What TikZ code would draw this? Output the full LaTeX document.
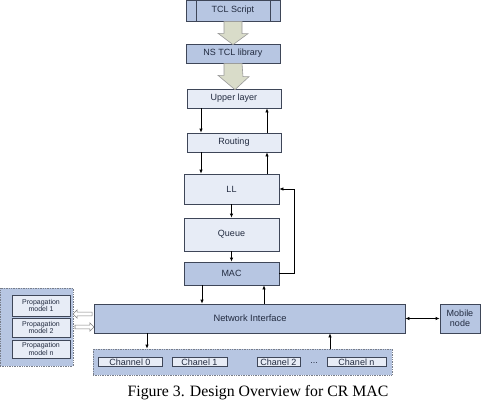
\documentclass[tikz,border=0pt]{standalone}
\usepackage{fontspec}
\setmainfont{Liberation Sans}
\newfontfamily\capfont{Liberation Serif}
\usetikzlibrary{shapes.arrows,arrows.meta}
\definecolor{boxdark}{HTML}{B7C6E2}
\definecolor{boxlight}{HTML}{E7ECF6}
\definecolor{boxline}{HTML}{3E4658}
\definecolor{boxtext}{HTML}{222B40}
\definecolor{fatfill}{HTML}{D9DCC9}
\begin{document}
\begin{tikzpicture}[x=1pt,y=-1pt,
		lay/.style={draw=boxline, fill=boxlight, line width=0.7pt, text=boxtext, font=\fontsize{9}{10}\selectfont, inner sep=0pt},
		laydark/.style={lay, fill=boxdark},
		grp/.style={draw=boxline!70, fill=boxdark, densely dotted, line width=0.7pt, inner sep=0pt},
		small/.style={lay, font=\fontsize{7}{7.5}\selectfont, align=center},
		fat/.style={draw=gray!80, fill=fatfill, line width=0.6pt, line join=miter},
		hollow/.style={single arrow, draw=gray, fill=white, line width=0.6pt, inner sep=1.6pt, single arrow head extend=2.2pt, minimum height=19pt},
		link/.style={-{Latex[length=4pt,width=3.5pt]}, line width=0.7pt, black}
	]
	\useasboundingbox (0,0) rectangle (485,405);

	% stack
	\node[laydark, minimum width=94pt, minimum height=21pt] (tcl) at (233,10.5) {TCL Script};
	\draw[boxline, line width=0.7pt] (196,0) -- (196,21) (270,0) -- (270,21);
	\node[laydark, minimum width=94pt, minimum height=19pt] (nslib) at (233,53.5) {NS TCL library};
	\node[lay, minimum width=94pt, minimum height=19pt] (upper) at (234,98.5) {Upper layer};
	\node[lay, minimum width=94pt, minimum height=19pt] (routing) at (234,142.5) {Routing};
	\node[lay, minimum width=95pt, minimum height=30pt] (ll) at (231.5,189) {LL};
	\node[lay, minimum width=95pt, minimum height=33pt] (queue) at (231.5,234.5) {Queue};
	\node[laydark, minimum width=95pt, minimum height=23pt] (mac) at (231.5,273.5) {MAC};

	% fat arrows
	\draw[fat] ([xshift=-9pt]tcl.south) -- ++(0,12) -- ++(-6,0) -- ([yshift=-1pt]nslib.north)
		-- ++(15,-11) -- ++(-6,0) -- ([xshift=9pt]tcl.south) -- cycle;
	\draw[fat] ([xshift=-9pt]nslib.south) -- ++(0,12) -- ++(-6,0) -- ([yshift=-1pt,xshift=1pt]upper.north)
		-- ++(14,-13) -- ++(-6,0) -- ([xshift=9pt]nslib.south) -- cycle;

	% bottom row
	\node[laydark, minimum width=311pt, minimum height=29pt] (ni) at (249.5,318.5) {};
	\node[text=boxtext, font=\fontsize{9.3}{10}\selectfont, inner sep=0pt] (nilabel) at (250,318.5) {Network Interface};
	\node[laydark, minimum width=40pt, minimum height=29pt, align=center] (mobile) at (460,318.5) {Mobile\\node};

	\node[grp, minimum width=73pt, minimum height=78pt] (propgrp) at (36.5,327) {};
	\node[small, minimum width=58pt, minimum height=21pt] (prop1) at (41,305.5) {Propagation\\model 1};
	\node[small, minimum width=58pt, minimum height=19pt] (prop2) at (41,327.5) {Propagation\\model 2};
	\node[small, minimum width=58pt, minimum height=18pt] (propn) at (41,349) {Propagation\\model n};

	\node[grp, minimum width=299pt, minimum height=26pt] (chgrp) at (242.5,362) {};
	\node[lay, minimum width=64pt, minimum height=9pt] (ch0) at (130,362) {Channel 0};
	\node[lay, minimum width=55pt, minimum height=9pt] (ch1) at (199.5,362) {Chanel 1};
	\node[lay, minimum width=43pt, minimum height=9pt] (ch2) at (278.5,362) {Chanel 2};
	\node[text=boxtext, font=\fontsize{9}{10}\selectfont, inner sep=0pt] (dots) at (314,363) {...};
	\node[lay, minimum width=59pt, minimum height=9pt] (chn) at (356.5,362) {Chanel n};

	\node[hollow, shape border rotate=180] (toprop) at (83.5,314) {};
	\node[hollow] (fromprop) at (83.5,327) {};

	% connectors
	\coordinate (dn) at (201,0);
	\coordinate (up) at (267,0);
	\draw[link] (upper.south -| dn) -- (routing.north -| dn);
	\draw[link] (routing.south -| dn) -- (ll.north -| dn);
	\draw[link] (routing.north -| up) -- (upper.south -| up);
	\draw[link] (ll.north -| up) -- (routing.south -| up);
	\draw[link] (ll) -- (queue);
	\draw[link] (queue) -- (mac);
	\coordinate (back) at (294,0);
	\draw[link] (mac.east) -- (mac.east -| back) -- (ll.east -| back) -- (ll.east);
	\coordinate (dn2) at (202,0);
	\coordinate (up2) at (264,0);
	\draw[link] (mac.south -| dn2) -- (ni.north -| dn2);
	\draw[link] (ni.north -| up2) -- (mac.south -| up2);
	\draw[link, {Latex[length=4pt,width=3.5pt]}-{Latex[length=4pt,width=3.5pt]}] (ni.east) -- (mobile.west);
	\coordinate (dn3) at (147,0);
	\coordinate (up3) at (330,0);
	\draw[link] (ni.south -| dn3) -- (chgrp.north -| dn3);
	\draw[link] (chgrp.north -| up3) -- (ni.south -| up3);

	\node[font=\capfont\fontsize{15.8}{17}\selectfont] (caption) at (258,393) {Figure 3. Design Overview for CR MAC};
\end{tikzpicture}
\end{document}
